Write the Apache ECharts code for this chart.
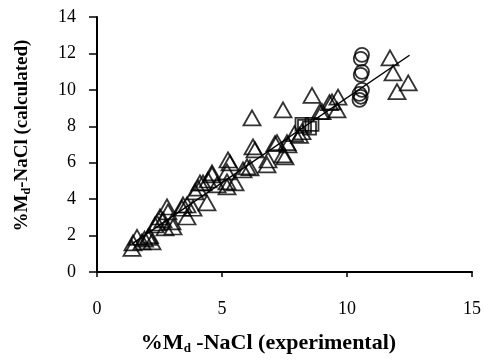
<!DOCTYPE html>
<html><head><meta charset="utf-8">
<script src="https://cdn.jsdelivr.net/npm/echarts@6/dist/echarts.min.js"></script>
<style>html,body{margin:0;padding:0;background:#fff}#c{width:484px;height:360px}</style>
</head><body><div id="c"></div>
<script>
const xTicks = [0, 5, 10, 15];
const yTicks = [0, 2, 4, 6, 8, 10, 12, 14];
const triangles = [
 [1.4,1.3],[1.44,1.6],[1.6,1.9],[1.8,1.65],[1.9,1.8],[2.04,1.9],[2.2,1.65],[2.1,2.0],
 [2.32,2.58],[2.4,2.69],[2.52,3.02],[2.64,2.86],[2.72,2.42],[2.8,3.57],[2.84,3.3],[3.0,2.75],[3.04,2.47],
 [3.4,3.5],[3.44,3.68],[3.6,3.02],[3.6,3.68],[3.84,3.5],[3.92,4.4],[4.04,4.6],[4.12,4.89],[4.24,4.89],[4.4,3.79],[4.44,5.05],[4.6,5.33],[4.6,5.44],[4.8,4.78],
 [5.2,4.95],[5.2,4.67],[5.2,5.5],[5.24,6.15],[5.32,5.99],[5.52,4.89],[5.84,5.6],[6.0,5.77],[6.12,5.71],[6.2,8.46],[6.24,6.87],[6.32,6.7],[6.8,5.88],[6.84,6.15],
 [7.12,7.05],[7.2,7.1],[7.44,8.9],[7.44,6.43],[7.6,7.1],[7.52,6.32],[7.64,6.98],[7.9,7.6],[8.2,7.7],[8.1,7.5],
 [8.6,9.7],[8.92,8.8],[9.0,8.8],[9.3,9.3],[9.4,9.34],[9.6,8.9],[9.64,9.6],
 [11.72,11.76],[11.84,10.93],[12.0,9.9],[12.45,10.38]
];
const squares = [[8.2,8.1],[8.3,8.0],[8.6,8.1],[8.5,7.9]];
const circles = [[10.6,11.92],[10.55,11.7],[10.6,10.99],[10.55,10.82],[10.6,10.0],[10.5,9.78],[10.55,9.62],[10.5,9.45]];
const fitLine = [[1.4,1.55],[12.5,11.9]];

const chart = echarts.init(document.getElementById('c'), null, {renderer:'canvas'});
const font = 'Liberation Serif';
const mk = (data, symbol, size) => ({
  type:'scatter', data, symbol, symbolSize:size, z:3,
  itemStyle:{color:'rgba(0,0,0,0)', borderColor:'#000', borderWidth:1.8}
});
const mkRich = (fs, ss, pad) => ({a:{fontFamily:font, fontSize:fs, fontWeight:'bold', color:'#000'},
  s:{fontFamily:font, fontSize:ss, fontWeight:'bold', color:'#000', verticalAlign:'bottom', padding:[pad,0,0,0]}});
chart.setOption({
  animation:false,
  backgroundColor:'#fff',
  grid:{left:97, right:11, top:17, bottom:88},
  xAxis:{type:'value', min:0, max:15, interval:5,
    axisLine:{lineStyle:{color:'#000', width:2}},
    axisTick:{show:true, length:5, lineStyle:{color:'#000', width:1.5}},
    splitLine:{show:false},
    axisLabel:{color:'#000', fontFamily:font, fontSize:18, margin:28},
    name:'{a|%M}{s|d}{a| -NaCl (experimental)}', nameLocation:'middle', nameGap:60,
    nameTextStyle:{rich:mkRich(22, 13, 10), padding:[0,32,0,0]}
  },
  yAxis:{type:'value', min:0, max:14, interval:2,
    axisLine:{show:true, lineStyle:{color:'#000', width:2}},
    axisTick:{show:true, length:8, lineStyle:{color:'#000', width:1.5}},
    splitLine:{show:false},
    axisLabel:{color:'#000', fontFamily:font, fontSize:18, margin:21},
    name:'{a|%M}{s|d}{a|-NaCl (calculated)}', nameLocation:'middle', nameGap:64, nameRotate:90,
    nameTextStyle:{rich:mkRich(19, 12, 9), padding:[0,0,0,18]}
  },
  series:[
    {type:'line', data:fitLine, symbol:'none', lineStyle:{color:'#000', width:1.5}, z:4},
    mk(triangles, 'triangle', [17,15]),
    mk(squares, 'rect', [13,13]),
    mk(circles, 'circle', [14,14])
  ]
});
</script></body></html>
